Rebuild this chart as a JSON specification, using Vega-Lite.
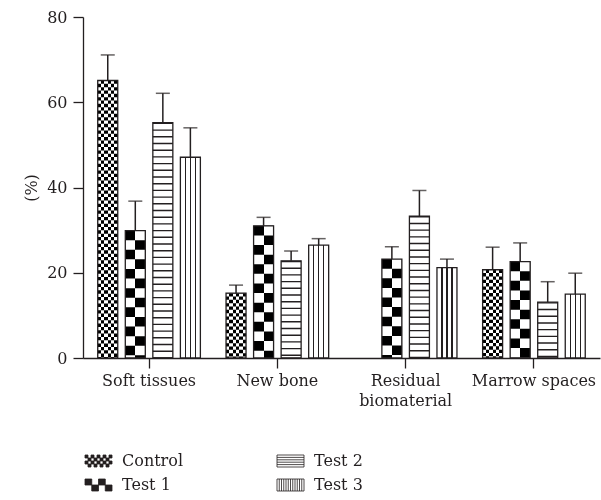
{
  "$schema": "https://vega.github.io/schema/vega-lite/v6.json",
  "autosize": "none",
  "width": 517,
  "height": 341,
  "padding": {"left": 83, "top": 17, "right": 1, "bottom": 142},
  "background": "white",
  "config": {
    "view": {"stroke": null},
    "font": "DejaVu Serif",
    "axis": {"labelFont": "DejaVu Serif", "titleFont": "DejaVu Serif", "labelFontSize": 16, "titleFontSize": 16, "labelColor": "#231f20", "titleColor": "#231f20", "domainColor": "#231f20", "tickColor": "#231f20", "domainWidth": 1.3, "tickWidth": 1.3, "grid": false},
    "legend": {"labelFont": "DejaVu Serif", "labelFontSize": 16, "labelColor": "#231f20"}
  },
  "data": {
    "values": [
      {"g": "Soft tissues", "s": "Control", "v": 65.1, "e": 71.1},
      {"g": "Soft tissues", "s": "Test 1", "v": 29.9, "e": 36.8},
      {"g": "Soft tissues", "s": "Test 2", "v": 55.2, "e": 62.1},
      {"g": "Soft tissues", "s": "Test 3", "v": 47.1, "e": 54},
      {"g": "New bone", "s": "Control", "v": 15.2, "e": 17.1},
      {"g": "New bone", "s": "Test 1", "v": 31, "e": 33},
      {"g": "New bone", "s": "Test 2", "v": 22.8, "e": 25.1},
      {"g": "New bone", "s": "Test 3", "v": 26.5, "e": 28},
      {"g": "Residual biomaterial", "s": "Test 1", "v": 23.2, "e": 26.1},
      {"g": "Residual biomaterial", "s": "Test 2", "v": 33.3, "e": 39.3},
      {"g": "Residual biomaterial", "s": "Test 3", "v": 21.2, "e": 23.2},
      {"g": "Marrow spaces", "s": "Control", "v": 20.7, "e": 26},
      {"g": "Marrow spaces", "s": "Test 1", "v": 22.6, "e": 27},
      {"g": "Marrow spaces", "s": "Test 2", "v": 13.1, "e": 17.9},
      {"g": "Marrow spaces", "s": "Test 3", "v": 15, "e": 19.9}
    ]
  },
  "encoding": {
    "x": {"field": "g", "type": "nominal", "sort": ["Soft tissues", "New bone", "Residual biomaterial", "Marrow spaces"], "title": null,
      "scale": {"paddingInner": 0.2, "paddingOuter": 0.115},
      "axis": {"labelAngle": 0, "tickSize": 10, "labelPadding": 4, "labelLineHeight": 20, "labelBaseline": "top",
        "labelExpr": "datum.label == 'Residual biomaterial' ? ['Residual', 'biomaterial'] : datum.label"}},
    "xOffset": {"field": "s", "type": "nominal", "scale": {"domain": ["Control", "Test 1", "Test 2", "Test 3"], "paddingInner": 0.274, "paddingOuter": 0}},
    "y": {"field": "v", "type": "quantitative", "title": "(%)", "scale": {"domain": [0, 80], "nice": false},
      "axis": {"values": [0, 20, 40, 60, 80], "tickSize": 10, "labelPadding": 6, "titlePadding": 7, "titleFontWeight": "normal"}}
  },
  "layer": [
    {
      "transform": [{"filter": "datum.s === 'Control'"}],
      "mark": {"type": "bar", "fill": {"gradient": "linear", "x1": 0, "y1": 0, "x2": 1, "y2": 0, "stops": [
                {"offset": 0, "color": "#000000"}, {"offset": 0.1667, "color": "#000000"},
                {"offset": 0.1667, "color": "#ffffff"}, {"offset": 0.3333, "color": "#ffffff"},
                {"offset": 0.3333, "color": "#000000"}, {"offset": 0.5, "color": "#000000"},
                {"offset": 0.5, "color": "#ffffff"}, {"offset": 0.6667, "color": "#ffffff"},
                {"offset": 0.6667, "color": "#000000"}, {"offset": 0.8333, "color": "#000000"},
                {"offset": 0.8333, "color": "#ffffff"}, {"offset": 1, "color": "#ffffff"}]}}
    },
    {
      "transform": [{"filter": "datum.s === 'Test 1'"}],
      "mark": {"type": "bar", "fill": {"gradient": "linear", "x1": 0, "y1": 0, "x2": 1, "y2": 0, "stops": [
                {"offset": 0, "color": "#ffffff"}, {"offset": 0.5, "color": "#ffffff"},
                {"offset": 0.5, "color": "#000000"}, {"offset": 1, "color": "#000000"}]}}
    },
    {
      "transform": [{"filter": "datum.s === 'Test 3'"}],
      "mark": {"type": "bar", "fill": {"gradient": "linear", "x1": 0, "y1": 0, "x2": 1, "y2": 0, "stops": [
                {"offset": 0, "color": "#ffffff"}, {"offset": 0.22, "color": "#ffffff"},
                {"offset": 0.22, "color": "#231f20"}, {"offset": 0.28, "color": "#231f20"},
                {"offset": 0.28, "color": "#ffffff"}, {"offset": 0.47, "color": "#ffffff"},
                {"offset": 0.47, "color": "#231f20"}, {"offset": 0.53, "color": "#231f20"},
                {"offset": 0.53, "color": "#ffffff"}, {"offset": 0.72, "color": "#ffffff"},
                {"offset": 0.72, "color": "#231f20"}, {"offset": 0.78, "color": "#231f20"},
                {"offset": 0.78, "color": "#ffffff"}, {"offset": 1, "color": "#ffffff"}]}}
    },
    {
      "transform": [{"filter": "datum.s === 'Control'"}],
      "mark": {"type": "rule", "color": "#ffffff", "strokeWidth": 20, "strokeDash": [3.33, 3.33], "blend": "difference"},
      "encoding": {"y2": {"datum": 0}}
    },
    {
      "transform": [{"filter": "datum.s === 'Test 1'"}],
      "mark": {"type": "rule", "color": "#ffffff", "strokeWidth": 20, "strokeDash": [9.6, 9.6], "blend": "difference"},
      "encoding": {"y2": {"datum": 0}}
    },
    {
      "transform": [{"filter": "datum.s === 'Test 2'"}],
      "mark": {"type": "rule", "color": "#231f20", "strokeWidth": 20, "strokeDash": [1.4, 5.3]},
      "encoding": {"y2": {"datum": 0}}
    },
    {
      "mark": {"type": "bar", "fill": "#ffffff", "fillOpacity": 0, "stroke": "#231f20", "strokeWidth": 1.3}
    },
    {
      "mark": {"type": "rule", "color": "#231f20", "strokeWidth": 1.5},
      "encoding": {"y2": {"field": "e"}}
    },
    {
      "mark": {"type": "tick", "color": "#231f20", "size": 14, "thickness": 1.5},
      "encoding": {"y": {"field": "e", "type": "quantitative"}}
    },
    {
      "transform": [{"filter": "false"}],
      "mark": {"type": "point", "filled": true, "opacity": 1, "strokeWidth": 0.8},
      "encoding": {
        "fill": {"field": "s", "type": "nominal",
          "scale": {"domain": ["Control", "Test 1", "Test 2", "Test 3"], "range": ["#231f20", "#231f20", "transparent", "transparent"]},
          "legend": {"title": null, "orient": "none", "legendX": 7.5, "legendY": 436, "columns": 2, "columnPadding": 91, "rowPadding": 8,
            "symbolSize": 144, "labelOffset": 15.5, "symbolStrokeWidth": 0.8, "symbolOpacity": 1}},
        "stroke": {"field": "s", "type": "nominal",
          "scale": {"domain": ["Control", "Test 1", "Test 2", "Test 3"], "range": ["#231f20", "#231f20", "#231f20", "#231f20"]},
          "legend": {"title": null, "orient": "none", "legendX": 7.5, "legendY": 436, "columns": 2, "columnPadding": 91, "rowPadding": 8,
            "symbolSize": 144, "labelOffset": 15.5, "symbolStrokeWidth": 0.8, "symbolOpacity": 1}},
        "shape": {"field": "s", "type": "nominal",
          "scale": {"domain": ["Control", "Test 1", "Test 2", "Test 3"], "range": [
            "M-2.25,-1h0.5v0.5h-0.5Z M-1.25,-1h0.5v0.5h-0.5Z M-0.25,-1h0.5v0.5h-0.5Z M0.75,-1h0.5v0.5h-0.5Z M1.75,-1h0.5v0.5h-0.5Z M-1.75,-0.5h0.5v0.5h-0.5Z M-0.75,-0.5h0.5v0.5h-0.5Z M0.25,-0.5h0.5v0.5h-0.5Z M1.25,-0.5h0.5v0.5h-0.5Z M-2.25,0h0.5v0.5h-0.5Z M-1.25,0h0.5v0.5h-0.5Z M-0.25,0h0.5v0.5h-0.5Z M0.75,0h0.5v0.5h-0.5Z M1.75,0h0.5v0.5h-0.5Z M-1.75,0.5h0.5v0.5h-0.5Z M-0.75,0.5h0.5v0.5h-0.5Z M0.25,0.5h0.5v0.5h-0.5Z M1.25,0.5h0.5v0.5h-0.5Z",
            "M-2.25,-1h1.125v1h-1.125Z M0,-1h1.125v1h-1.125Z M-1.125,0h1.125v1h-1.125Z M1.125,0h1.125v1h-1.125Z",
            "M-2.25,-1H2.25V1H-2.25Z M-2.25,-0.6H2.25 M-2.25,-0.2H2.25 M-2.25,0.2H2.25 M-2.25,0.6H2.25",
            "M-2.25,-1H2.25V1H-2.25Z M-1.875,-1V1 M-1.5,-1V1 M-1.125,-1V1 M-0.75,-1V1 M-0.375,-1V1 M0,-1V1 M0.375,-1V1 M0.75,-1V1 M1.125,-1V1 M1.5,-1V1 M1.875,-1V1"
          ]},
          "legend": {"title": null, "orient": "none", "legendX": 7.5, "legendY": 436, "columns": 2, "columnPadding": 91, "rowPadding": 8,
            "symbolSize": 144, "labelOffset": 15.5, "symbolStrokeWidth": 0.8, "symbolOpacity": 1}}
      }
    }
  ]
}
